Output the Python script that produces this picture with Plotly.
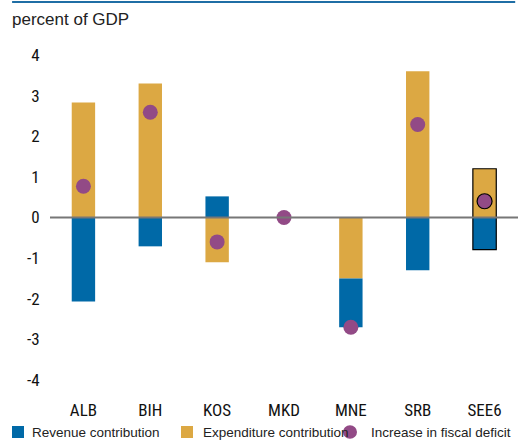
import plotly.graph_objects as go

categories = ["ALB", "BIH", "KOS", "MKD", "MNE", "SRB", "SEE6"]
revenue = [-2.07, -0.71, 0.52, 0.0, -1.2, -1.3, -0.79]
expenditure = [2.83, 3.3, -1.1, 0.0, -1.5, 3.6, 1.2]
deficit = [0.77, 2.59, -0.6, 0.0, -2.7, 2.29, 0.4]
y_ticks = [-4, -3, -2, -1, 0, 1, 2, 3, 4]
y_ticktext = ["-4", "-3", "-2", "-1", "0", "1", "2", "3", "4"]
legend_labels = ["Revenue contribution", "Expenditure contribution", "Increase in fiscal deficit"]

BLUE = "#0069a7"
GOLD = "#dca843"
PURPLE = "#924a86"
NARROW = "Roboto Condensed, DejaVu Sans Condensed, sans-serif"
SANS = "Liberation Sans, Arial, sans-serif"

outline = [0, 0, 0, 0, 0, 0, 1.2]
dot_outline = [0, 0, 0, 0, 0, 0, 1.2]

fig = go.Figure()
fig.add_trace(go.Bar(
    x=categories, y=expenditure, name=legend_labels[1],
    marker=dict(color=GOLD, line=dict(color="black", width=outline)),
    width=0.35,
))
fig.add_trace(go.Bar(
    x=categories, y=revenue, name=legend_labels[0],
    marker=dict(color=BLUE, line=dict(color="black", width=outline)),
    width=0.35,
))
fig.add_trace(go.Scatter(
    x=categories, y=deficit, mode="markers", name=legend_labels[2],
    marker=dict(color=PURPLE, size=15, line=dict(color="black", width=dot_outline)),
))

# manual legend (paper coordinates)
ly0, ly1 = -0.1785, -0.1415
shapes = [
    dict(type="line", xref="paper", yref="y", x0=0, x1=1, y0=0, y1=0,
         line=dict(color="#777", width=2), layer="above"),
    dict(type="line", xref="paper", yref="paper", x0=-0.081, x1=0.994,
         y0=1.163, y1=1.163, line=dict(color="#1f6ea5", width=2)),
    dict(type="rect", xref="paper", yref="paper", x0=-0.0812, x1=-0.0556,
         y0=ly0, y1=ly1, fillcolor=BLUE, line=dict(width=0)),
    dict(type="rect", xref="paper", yref="paper", x0=0.2799, x1=0.3056,
         y0=ly0, y1=ly1, fillcolor=GOLD, line=dict(width=0)),
    dict(type="circle", xref="paper", yref="paper", x0=0.626, x1=0.656,
         y0=ly0 - 0.002, y1=ly1 + 0.002, fillcolor=PURPLE, line=dict(width=0)),
]
annotations = [
    dict(text="percent of GDP", xref="paper", yref="paper", x=-0.085,
         y=1.108, xanchor="left", yanchor="middle", showarrow=False,
         font=dict(family=SANS, size=17, color="#222")),
]
for txt, xp in zip(legend_labels, [-0.042, 0.323, 0.682]):
    annotations.append(dict(
        text=txt, xref="paper", yref="paper", x=xp, y=-0.16,
        xanchor="left", yanchor="middle", showarrow=False,
        font=dict(family=SANS, size=13.5, color="#222"),
    ))

fig.update_layout(
    width=521, height=440,
    barmode="relative",
    plot_bgcolor="white", paper_bgcolor="white",
    margin=dict(l=50, r=3, t=55, b=60, autoexpand=False),
    showlegend=False,
    xaxis=dict(
        showline=False, showgrid=False, ticks="outside", ticklen=15,
        tickcolor="rgba(0,0,0,0)", automargin=False,
        tickfont=dict(family=NARROW, size=17, color="#111"),
    ),
    yaxis=dict(
        range=[-4, 4], tickvals=y_ticks, ticktext=y_ticktext,
        showgrid=False, showline=False, automargin=False,
        zeroline=False, ticks="outside", ticklen=6, tickcolor="rgba(0,0,0,0)",
        tickfont=dict(family=NARROW, size=17, color="#111"),
    ),
    shapes=shapes,
    annotations=annotations,
)

fig.write_html("out.html", config={"displayModeBar": False},
               post_script="document.body.style.margin='0px';")
